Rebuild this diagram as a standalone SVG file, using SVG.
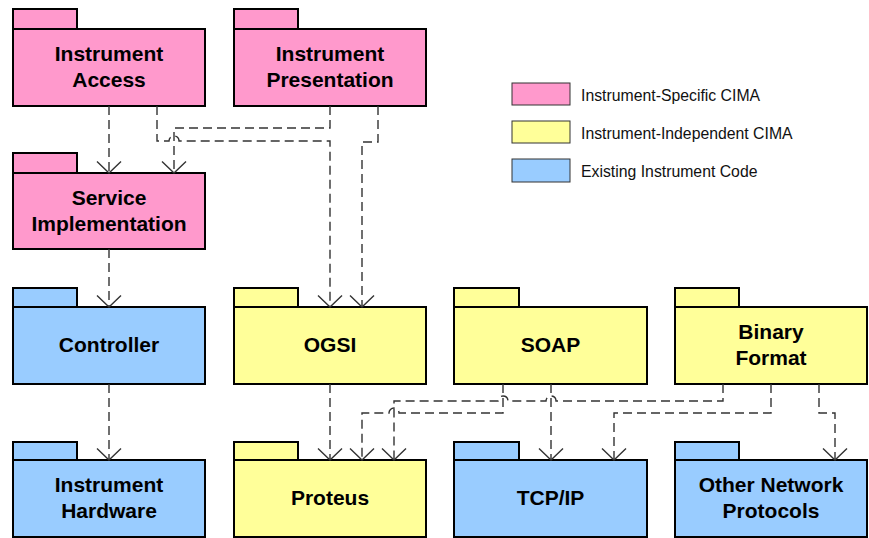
<svg xmlns="http://www.w3.org/2000/svg" width="869" height="538" viewBox="0 0 869 538">
<defs>
<style>
.pk{fill:#FF99CC}
.yl{fill:#FFFF99}
.bl{fill:#99CCFF}
.pkg rect{stroke:#000;stroke-width:2}
.lbl{font-family:"Liberation Sans",Arial,sans-serif;font-weight:bold;font-size:21px;text-anchor:middle;fill:#000}
.leg{font-family:"Liberation Sans",Arial,sans-serif;font-size:15.8px;fill:#111}
.legbox{stroke:#333;stroke-width:1}
.dep{fill:none;stroke:#333;stroke-width:1.4;stroke-dasharray:9,5;marker-end:url(#arr)}
</style>
<marker id="arr" markerUnits="userSpaceOnUse" markerWidth="30" markerHeight="30" refX="0" refY="0" viewBox="-15 -15 30 30" orient="auto" overflow="visible">
<path d="M-11.5,-12 L0,0 L-11.5,12" fill="none" stroke="#333" stroke-width="1.4"/>
</marker>
</defs>
<rect width="869" height="538" fill="#fff"/>

<g id="instrument-access" class="pkg">
<rect class="pk" x="13" y="9" width="64" height="20"/>
<rect class="pk" x="13" y="29" width="192" height="77"/>
<text class="lbl" x="109" y="61">Instrument</text>
<text class="lbl" x="109" y="87">Access</text>
</g>
<g id="instrument-presentation" class="pkg">
<rect class="pk" x="234" y="9" width="64" height="20"/>
<rect class="pk" x="234" y="29" width="192" height="77"/>
<text class="lbl" x="330" y="61">Instrument</text>
<text class="lbl" x="330" y="87">Presentation</text>
</g>
<g id="service-implementation" class="pkg">
<rect class="pk" x="13" y="153" width="64" height="20"/>
<rect class="pk" x="13" y="173" width="192" height="76"/>
<text class="lbl" x="109" y="204.5">Service</text>
<text class="lbl" x="109" y="230.5">Implementation</text>
</g>
<g id="controller" class="pkg">
<rect class="bl" x="13" y="288" width="64" height="19"/>
<rect class="bl" x="13" y="307" width="192" height="77"/>
<text class="lbl" x="109" y="351.5">Controller</text>
</g>
<g id="ogsi" class="pkg">
<rect class="yl" x="234" y="288" width="64" height="19"/>
<rect class="yl" x="234" y="307" width="192" height="77"/>
<text class="lbl" x="330" y="351.5">OGSI</text>
</g>
<g id="soap" class="pkg">
<rect class="yl" x="454" y="288" width="65" height="19"/>
<rect class="yl" x="454" y="307" width="193" height="77"/>
<text class="lbl" x="550.5" y="351.5">SOAP</text>
</g>
<g id="binary-format" class="pkg">
<rect class="yl" x="675" y="288" width="64" height="19"/>
<rect class="yl" x="675" y="307" width="192" height="77"/>
<text class="lbl" x="771" y="339">Binary</text>
<text class="lbl" x="771" y="365">Format</text>
</g>
<g id="instrument-hardware" class="pkg">
<rect class="bl" x="13" y="442" width="64" height="18"/>
<rect class="bl" x="13" y="460" width="192" height="77"/>
<text class="lbl" x="109" y="492">Instrument</text>
<text class="lbl" x="109" y="518">Hardware</text>
</g>
<g id="proteus" class="pkg">
<rect class="yl" x="234" y="442" width="64" height="18"/>
<rect class="yl" x="234" y="460" width="192" height="77"/>
<text class="lbl" x="330" y="505">Proteus</text>
</g>
<g id="tcp-ip" class="pkg">
<rect class="bl" x="454" y="442" width="65" height="18"/>
<rect class="bl" x="454" y="460" width="193" height="77"/>
<text class="lbl" x="550.5" y="505">TCP/IP</text>
</g>
<g id="other-network-protocols" class="pkg">
<rect class="bl" x="675" y="442" width="64" height="18"/>
<rect class="bl" x="675" y="460" width="192" height="77"/>
<text class="lbl" x="771" y="492">Other Network</text>
<text class="lbl" x="771" y="518">Protocols</text>
</g>

<g id="legend">
<rect class="pk legbox" x="512" y="83" width="58" height="22"/>
<text class="leg" x="581" y="100.5">Instrument-Specific CIMA</text>
<rect class="yl legbox" x="512" y="121" width="58" height="22"/>
<text class="leg" x="581" y="138.5">Instrument-Independent CIMA</text>
<rect class="bl legbox" x="512" y="159" width="58" height="23"/>
<text class="leg" x="581" y="176.5">Existing Instrument Code</text>
</g>

<g id="connectors">
<path class="dep" d="M109,106 V173"/>
<path class="dep" d="M330,106 V128 H174 V173"/>
<path class="dep" d="M157,106 V141 H169 A5,5 0 0 1 179,141 H330 V307"/>
<path class="dep" d="M378,106 V142 H362 V307"/>
<path class="dep" d="M109,249 V307"/>
<path class="dep" d="M109,384 V460"/>
<path class="dep" d="M330,384 V460"/>
<path class="dep" d="M503,384 V413 H399 A5,5 0 0 0 389,413 H362 V460"/>
<path class="dep" d="M723,384 V401 H556 A5,5 0 0 0 546,401 H508 A5,5 0 0 0 498,401 H394 V460"/>
<path class="dep" d="M551,384 V460"/>
<path class="dep" d="M771,384 V413 H614 V460"/>
<path class="dep" d="M819,384 V413 H835 V460"/>
</g>
</svg>
